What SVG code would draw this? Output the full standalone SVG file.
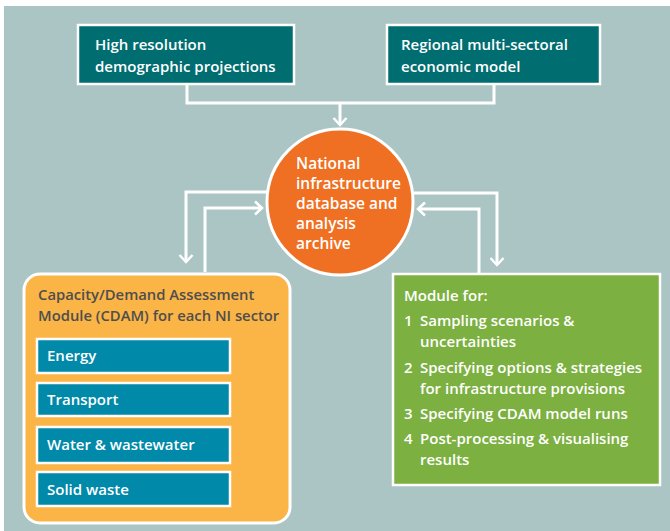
<svg xmlns="http://www.w3.org/2000/svg" width="670" height="531" viewBox="0 0 670 531">
  <style>
    .t { font-family: "Open Sans", "Liberation Sans", sans-serif; font-weight: 600; }
    .wt { fill: #ffffff; }
    .dk { fill: #4e4e4e; }
    .conn { fill: none; stroke: #ffffff; stroke-width: 3; }
    .teal { fill: #006d71; stroke: #ffffff; stroke-width: 2.5; }
    .sector { fill: #0089a9; stroke: #ffffff; stroke-width: 2.5; }
  </style>
  <defs>
    <marker id="chev" viewBox="-9 -8 11 16" markerWidth="11" markerHeight="16" refX="0" refY="0" orient="auto" markerUnits="userSpaceOnUse">
      <path d="M-7,-6.5 L0,0 L-7,6.5" fill="none" stroke="#ffffff" stroke-width="2.5"/>
    </marker>
  </defs>

  <!-- backdrop -->
  <rect x="0" y="0" width="670" height="531" fill="#ffffff"/>
  <rect x="4" y="6" width="666" height="525" fill="#abc5c5"/>

  <!-- connectors -->
  <g id="connectors">
    <polyline class="conn" points="187,84 187,103 494,103 494,84"/>
    <line class="conn" x1="340" y1="103" x2="340" y2="125" marker-end="url(#chev)"/>
    <polyline class="conn" points="268,192 186,192 186,262" marker-end="url(#chev)"/>
    <polyline class="conn" points="205,272 205,208 262,208" marker-end="url(#chev)"/>
    <polyline class="conn" points="412,193 497,193 497,265" marker-end="url(#chev)"/>
    <polyline class="conn" points="479,273 479,209 418,209" marker-end="url(#chev)"/>
  </g>

  <g id="demographic">
    <rect class="teal" x="78" y="25" width="216" height="59"/>
    <text class="t wt" font-size="15"><tspan x="95" y="50">High resolution</tspan><tspan x="95" y="72">demographic projections</tspan></text>
  </g>

  <g id="economic">
    <rect class="teal" x="387" y="25" width="213" height="59"/>
    <text class="t wt" font-size="15"><tspan x="401" y="50">Regional multi-sectoral</tspan><tspan x="401" y="72">economic model</tspan></text>
  </g>

  <g id="database">
    <circle cx="340" cy="202" r="73" fill="#ef7022" stroke="#ffffff" stroke-width="3"/>
    <text class="t wt" font-size="15.5"><tspan x="296" y="169">National</tspan><tspan x="296" y="189">infrastructure</tspan><tspan x="296" y="209">database and</tspan><tspan x="296" y="229">analysis</tspan><tspan x="296" y="249">archive</tspan></text>
  </g>

  <g id="cdam">
    <rect x="24" y="274" width="266" height="249" rx="16" fill="#fbb446" stroke="#ffffff" stroke-width="3"/>
    <text class="t dk" font-size="14.8"><tspan x="38" y="300">Capacity/Demand Assessment</tspan><tspan x="38" y="321">Module (CDAM) for each NI sector</tspan></text>
  </g>

  <g id="energy">
    <rect class="sector" x="37" y="339" width="193" height="34"/>
    <text class="t wt" x="47" y="361" font-size="15">Energy</text>
  </g>
  <g id="transport">
    <rect class="sector" x="37" y="383" width="193" height="33"/>
    <text class="t wt" x="47" y="405" font-size="15">Transport</text>
  </g>
  <g id="water">
    <rect class="sector" x="37" y="427" width="193" height="36"/>
    <text class="t wt" x="47" y="450" font-size="15">Water &amp; wastewater</text>
  </g>
  <g id="solid-waste">
    <rect class="sector" x="37" y="472" width="193" height="34"/>
    <text class="t wt" x="47" y="495" font-size="15">Solid waste</text>
  </g>

  <g id="module">
    <rect x="393" y="274" width="267" height="211" fill="#7cb040" stroke="#ffffff" stroke-width="2.5"/>
    <text class="t wt" font-size="15">
      <tspan x="404" y="301">Module for:</tspan>
      <tspan x="404" y="326">1</tspan><tspan x="420" y="326">Sampling scenarios &amp;</tspan>
      <tspan x="420" y="347">uncertainties</tspan>
      <tspan x="404" y="373">2</tspan><tspan x="420" y="373">Specifying options &amp; strategies</tspan>
      <tspan x="420" y="394">for infrastructure provisions</tspan>
      <tspan x="404" y="419">3</tspan><tspan x="420" y="419">Specifying CDAM model runs</tspan>
      <tspan x="404" y="444">4</tspan><tspan x="420" y="444">Post-processing &amp; visualising</tspan>
      <tspan x="420" y="465">results</tspan>
    </text>
  </g>
</svg>
